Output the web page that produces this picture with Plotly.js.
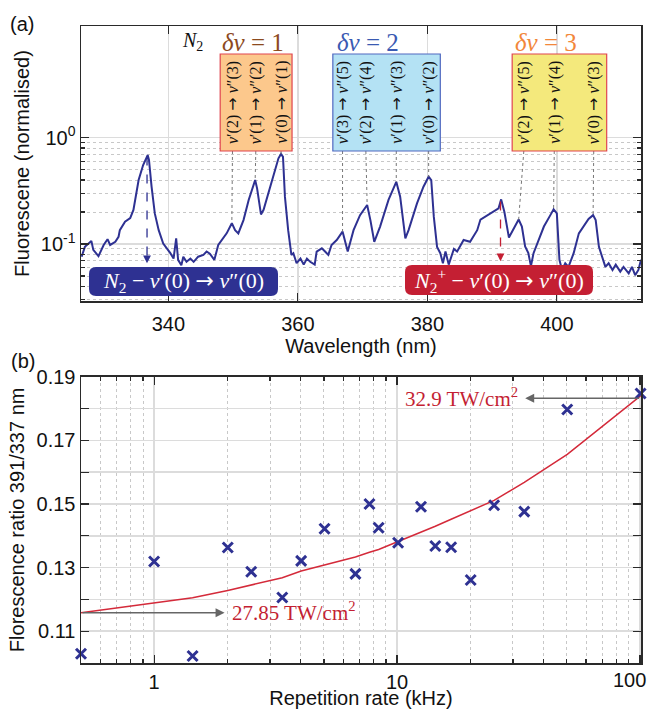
<!DOCTYPE html>
<html><head><meta charset="utf-8">
<script src="https://cdn.plot.ly/plotly-3.0.1.min.js"></script>
<style>body{margin:0;background:#fff}#plot{width:651px;height:709px}</style>
</head><body><div id="plot"></div>
<script>
// ---------- Panel (a): fluorescence spectrum ----------
const wavelength = [326.6,327.1,328.1,328.4,329.2,330.0,330.6,331.0,331.8,332.3,332.5,333.3,334.1,334.6,335.4,336.1,336.8,337.0,337.4,337.9,338.5,339.2,340.3,340.8,341.2,341.5,342.0,342.3,342.8,343.4,343.9,344.6,345.4,345.9,346.4,347.1,347.7,348.3,349.0,349.8,350.3,350.8,351.6,352.4,353.4,353.7,354.3,354.7,355.2,356.1,357.0,357.4,357.7,358.0,358.5,359.0,359.3,359.8,360.4,360.9,361.4,361.9,362.6,362.9,363.7,364.2,364.7,365.2,366.0,366.9,367.7,368.6,369.6,370.7,371.2,371.8,372.7,374.0,375.2,375.8,376.6,377.1,378.4,379.4,380.2,380.6,381.0,381.5,382.0,382.4,382.8,383.3,384.1,384.6,385.6,386.6,387.7,388.2,389.2,390.2,391.0,391.4,391.9,392.6,393.3,394.1,394.6,395.1,395.6,396.0,396.4,397.2,398.0,399.0,399.5,400.0,400.4,400.8,401.3,401.8,402.6,403.4,404.1,404.9,405.6,406.0,406.5,407.0,407.5,408.0,408.6,409.1,409.8,410.3,411.1,411.6,412.1,412.6,413.0];
const fluorescence = [0.076,0.094,0.107,0.088,0.077,0.098,0.111,0.098,0.105,0.117,0.135,0.162,0.175,0.209,0.40,0.553,0.687,0.617,0.346,0.194,0.135,0.101,0.082,0.073,0.113,0.071,0.063,0.076,0.068,0.073,0.068,0.076,0.079,0.085,0.081,0.071,0.098,0.109,0.126,0.157,0.135,0.126,0.168,0.26,0.40,0.334,0.19,0.21,0.27,0.43,0.64,0.703,0.66,0.279,0.135,0.079,0.082,0.066,0.073,0.064,0.073,0.068,0.064,0.085,0.091,0.085,0.079,0.098,0.109,0.131,0.085,0.135,0.187,0.233,0.168,0.105,0.146,0.26,0.385,0.279,0.113,0.135,0.241,0.346,0.43,0.40,0.18,0.094,0.082,0.066,0.085,0.064,0.09,0.085,0.109,0.105,0.135,0.17,0.185,0.201,0.217,0.263,0.20,0.115,0.137,0.17,0.146,0.095,0.082,0.062,0.082,0.112,0.146,0.187,0.212,0.194,0.071,0.057,0.066,0.061,0.082,0.126,0.146,0.172,0.187,0.168,0.094,0.076,0.061,0.066,0.057,0.064,0.055,0.061,0.053,0.061,0.051,0.057,0.071];

// band groups: label column wavelength (top), peak wavelength (bottom), label text
const band1Top = [349.9, 353.5, 357.4];
const band1Peak = [349.8, 353.4, 357.4];
const band1Text = ["ν′(2) → ν″(3)", "ν′(1) → ν″(2)", "ν′(0) → ν″(1)"];
const band2Top = [366.9, 370.5, 375.2, 380.2];
const band2Peak = [366.9, 370.7, 375.2, 380.2];
const band2Text = ["ν′(3) → ν″(5)", "ν′(2) → ν″(4)", "ν′(1) → ν″(3)", "ν′(0) → ν″(2)"];
const band3Top = [394.9, 399.6, 405.7];
const band3Peak = [394.1, 399.5, 405.6];
const band3Text = ["ν′(2) → ν″(5)", "ν′(1) → ν″(4)", "ν′(0) → ν″(3)"];
const n2Line = 336.7;
const n2PlusLine = 391.3;

// ---------- Panel (b): fluorescence ratio vs repetition rate ----------
const repRate = [0.5,1.0,1.44,2.01,2.51,3.37,4.03,5.03,6.74,7.7,8.4,10.1,12.55,14.37,16.7,20.1,25.1,33.4,50.2,100.6];
const ratio = [0.1029,0.1319,0.1022,0.1363,0.1287,0.1206,0.1321,0.1422,0.1280,0.1500,0.1425,0.1378,0.1491,0.1368,0.1364,0.1261,0.1496,0.1476,0.1797,0.1847];
const fitRatio = [0.1158,0.1188,0.1205,0.1228,0.1245,0.1268,0.1289,0.1307,0.1333,0.1348,0.1357,0.1382,0.1410,0.1430,0.1452,0.1478,0.1511,0.1568,0.1656,0.1840];
const intensityLow = "27.85";
const intensityHigh = "32.9";

// ---------- geometry helpers ----------
const L = 81, R = 10, T = 26, B = 46, W = 651, H = 709;
const PW = W - L - R, PH = H - T - B;
const px2x = p => (p - L) / PW;
const px2y = p => 1 - (p - T) / PH;
const topDom = [px2y(301), 1];
const botDom = [0, px2y(376.7)];
const topYRange = [-1.536, 1.051];
const topXRange = [326.5, 413];
const paperToTopY = p => Math.pow(10, topYRange[0] + (p - topDom[0]) / (topDom[1] - topDom[0]) * (topYRange[1] - topYRange[0]));
function interp(x) {
  for (let i = 0; i < wavelength.length - 1; i++) {
    if (x >= wavelength[i] && x <= wavelength[i+1]) {
      const t = (x - wavelength[i]) / (wavelength[i+1] - wavelength[i]);
      return Math.pow(10, Math.log10(fluorescence[i]) * (1 - t) + Math.log10(fluorescence[i+1]) * t);
    }
  }
  return fluorescence[fluorescence.length - 1];
}

const navy = '#2e3192', red = '#c41f33';
const serif = 'Liberation Serif, DejaVu Serif, serif';
const sans = 'Liberation Sans, Arial, sans-serif';
const arrowSpan = '<span style="font-family:DejaVu Sans">→</span>';
const mathify = s => s.replace(/ν/g, '<i>ν</i>').replace(' → ', ' ' + arrowSpan + ' ');

const traces = [];
traces.push({x: wavelength, y: fluorescence, xaxis: 'x', yaxis: 'y', mode: 'lines',
  line: {color: navy, width: 2}, hoverinfo: 'skip', showlegend: false});

const boxBottomY = paperToTopY(px2y(151));
[[band1Top, band1Peak], [band2Top, band2Peak], [band3Top, band3Peak]].forEach(([tops, peaks]) => {
  tops.forEach((t, i) => {
    traces.push({x: [t, peaks[i]], y: [boxBottomY, interp(peaks[i])], xaxis: 'x', yaxis: 'y',
      mode: 'lines', line: {color: '#777', width: 1, dash: 'dot'}, hoverinfo: 'skip', showlegend: false});
  });
});
const tipN2 = paperToTopY(px2y(259));
const tipN2p = paperToTopY(px2y(257));
traces.push({x: [n2Line, n2Line], y: [interp(n2Line), tipN2], xaxis: 'x', yaxis: 'y', mode: 'lines',
  line: {color: navy, width: 1.3, dash: 'dash'}, hoverinfo: 'skip', showlegend: false});
traces.push({x: [n2PlusLine, n2PlusLine], y: [interp(n2PlusLine), tipN2p], xaxis: 'x', yaxis: 'y', mode: 'lines',
  line: {color: red, width: 1.3, dash: 'dash'}, hoverinfo: 'skip', showlegend: false});

traces.push({x: repRate, y: fitRatio, xaxis: 'x2', yaxis: 'y2', mode: 'lines',
  line: {color: '#d42a3a', width: 1.5}, hoverinfo: 'skip', showlegend: false});
traces.push({x: repRate, y: ratio, xaxis: 'x2', yaxis: 'y2', mode: 'markers',
  marker: {symbol: 'x-thin-open', size: 10, color: navy, line: {color: navy, width: 3}}, hoverinfo: 'skip', showlegend: false, cliponaxis: false});

const shapes = [];
function box(x0, x1, fill, border) {
  shapes.push({type: 'rect', xref: 'x', yref: 'paper', x0: x0, x1: x1, y0: px2y(151), y1: px2y(54),
    fillcolor: fill, line: {color: border, width: 1.2}, layer: 'above'});
}
box(348.0, 359.1, '#fcc88c', '#e0454f');
box(365.4, 382.0, '#b4e2f4', '#5068c0');
box(393.1, 407.7, '#f4e97c', '#e0454f');
function rounded(x0, x1, y0, y1, r, fill) {
  const X0 = px2x(x0), X1 = px2x(x1), Y0 = px2y(y1), Y1 = px2y(y0);
  const rx = r / PW, ry = r / PH;
  const p = `M ${X0+rx},${Y1} L ${X1-rx},${Y1} Q ${X1},${Y1} ${X1},${Y1-ry} L ${X1},${Y0+ry} Q ${X1},${Y0} ${X1-rx},${Y0} L ${X0+rx},${Y0} Q ${X0},${Y0} ${X0},${Y0+ry} L ${X0},${Y1-ry} Q ${X0},${Y1} ${X0+rx},${Y1} Z`;
  shapes.push({type: 'path', xref: 'paper', yref: 'paper', path: p, fillcolor: fill, line: {width: 0}, layer: 'above'});
}
rounded(89, 278, 267, 296, 7, navy);
rounded(405, 593, 265, 295, 7, red);

const ann = [];
const txt = (o) => ann.push(Object.assign({showarrow: false, xanchor: 'center', yanchor: 'middle'}, o));
txt({text: '(a)', xref: 'paper', yref: 'paper', x: px2x(22), y: px2y(24), font: {family: sans, size: 20, color: '#111'}});
txt({text: '(b)', xref: 'paper', yref: 'paper', x: px2x(23), y: px2y(361), font: {family: sans, size: 20, color: '#111'}});
txt({text: '<i>N</i><sub>2</sub>', xref: 'x', yref: 'paper', x: 343.7, y: px2y(41), font: {family: serif, size: 20, color: '#111'}});
txt({text: '<i>δν</i> = 1', xref: 'x', yref: 'paper', x: 353.0, y: px2y(42), font: {family: serif, size: 25, color: '#8c4a1e'}});
txt({text: '<i>δν</i> = 2', xref: 'x', yref: 'paper', x: 370.9, y: px2y(42), font: {family: serif, size: 25, color: '#3a5ab2'}});
txt({text: '<i>δν</i> = 3', xref: 'x', yref: 'paper', x: 398.3, y: px2y(42), font: {family: serif, size: 25, color: '#f2873a'}});
[[band1Top, band1Text], [band2Top, band2Text], [band3Top, band3Text]].forEach(([xs, ts]) => {
  xs.forEach((x, i) => txt({text: mathify(ts[i]), xref: 'x', yref: 'paper', x: x, y: px2y(102.5), textangle: -90,
    font: {family: serif, size: 16, color: '#111'}}));
});
txt({text: '<i>N</i><sub>2</sub> − <i>ν</i>′(0) ' + arrowSpan + ' <i>ν</i>″(0)', xref: 'paper', yref: 'paper', x: px2x(183.5), y: px2y(281.5),
  font: {family: serif, size: 22, color: '#fff'}});
txt({text: '<i>N</i><sub>2</sub><sup>+</sup> − <i>ν</i>′(0) ' + arrowSpan + ' <i>ν</i>″(0)', xref: 'paper', yref: 'paper', x: px2x(499), y: px2y(280),
  font: {family: serif, size: 22, color: '#fff'}});
ann.push({text: '', xref: 'x', yref: 'y', x: n2Line, y: Math.log10(tipN2) - 0.04, ax: 0, ay: -9, showarrow: true,
  arrowhead: 2, arrowsize: 1.2, arrowwidth: 1.3, arrowcolor: navy});
ann.push({text: '', xref: 'x', yref: 'y', x: n2PlusLine, y: Math.log10(tipN2p) - 0.04, ax: 0, ay: -9, showarrow: true,
  arrowhead: 2, arrowsize: 1.2, arrowwidth: 1.3, arrowcolor: red});
const hiY = 0.1832, loY = fitRatio[0];
ann.push({text: '', xref: 'x2', yref: 'y2', axref: 'x2', ayref: 'y2', x: Math.log10(33.7), y: hiY,
  ax: Math.log10(repRate[repRate.length-1]), ay: hiY, showarrow: true, arrowhead: 2, arrowsize: 1.2, arrowwidth: 1.5, arrowcolor: '#666'});
ann.push({text: '', xref: 'x2', yref: 'y2', axref: 'x2', ayref: 'y2', x: Math.log10(1.95), y: loY,
  ax: Math.log10(repRate[0]), ay: loY, showarrow: true, arrowhead: 2, arrowsize: 1.2, arrowwidth: 1.5, arrowcolor: '#666'});
txt({text: intensityHigh + ' TW/cm<sup>2</sup>', xref: 'x2', yref: 'y2', x: Math.log10(32.2), y: hiY + 0.0004, xanchor: 'right',
  font: {family: serif, size: 21, color: red}});
txt({text: intensityLow + ' TW/cm<sup>2</sup>', xref: 'x2', yref: 'y2', x: Math.log10(2.05), y: loY + 0.0004, xanchor: 'left',
  font: {family: serif, size: 21, color: red}});
txt({text: '100', xref: 'paper', yref: 'paper', x: px2x(648), y: px2y(680), xanchor: 'right',
  font: {family: sans, size: 20, color: '#111'}});

const axisCommon = {showline: true, linecolor: '#2a2a2a', linewidth: 1.5, mirror: 'ticks', ticks: 'inside',
  tickcolor: '#2a2a2a', tickwidth: 1.2, ticklen: 8, gridcolor: '#dcdcdc', gridwidth: 1.5, zeroline: false,
  tickfont: {family: sans, size: 20, color: '#111'}};

const minorTop = [0.03,0.04,0.05,0.06,0.07,0.08,0.09,0.2,0.3,0.4,0.5,0.6,0.7,0.8,0.9];
const minorBot = [0.6,0.7,0.8,0.9,2,3,4,5,6,7,8,9,20,30,40,50,60,70,80,90];
const yTicksB = [0.10,0.11,0.12,0.13,0.14,0.15,0.16,0.17,0.18,0.19];

const layout = {
  width: W, height: H, margin: {l: L, r: R, t: T, b: B}, paper_bgcolor: '#fff', plot_bgcolor: '#fff',
  showlegend: false, shapes: shapes, annotations: ann,
  xaxis: Object.assign({}, axisCommon, {domain: [0, 1], anchor: 'y', range: topXRange, tickvals: [340, 360, 380, 400],
    ticklabelstandoff: 4,
    title: {text: 'Wavelength (nm)', font: {family: sans, size: 20, color: '#111'}, standoff: 0}}),
  yaxis: Object.assign({}, axisCommon, {domain: topDom, anchor: 'x', type: 'log', range: topYRange,
    tickvals: [0.1, 1], ticktext: ['10<sup>-1</sup>', '10<sup>0</sup>'],
    minor: {tickvals: minorTop, ticks: 'inside', ticklen: 4, tickcolor: '#2a2a2a', showgrid: true, gridcolor: '#c8c8c8', griddash: 'dot', gridwidth: 1},
    title: {text: 'Fluorescene (normalised)', font: {family: sans, size: 20, color: '#111'}, standoff: 6}}),
  xaxis2: Object.assign({}, axisCommon, {domain: [0, 1], anchor: 'y2', type: 'log', range: [Math.log10(0.5), Math.log10(101)],
    tickvals: [1, 10, 100], ticktext: ['1', '10', ''],
    minor: {tickvals: minorBot, ticks: 'inside', ticklen: 4, tickcolor: '#2a2a2a', showgrid: true, gridcolor: '#c8c8c8', griddash: 'dot', gridwidth: 1},
    title: {text: 'Repetition rate (kHz)', font: {family: sans, size: 20, color: '#111'}, standoff: 2}}),
  yaxis2: Object.assign({}, axisCommon, {domain: botDom, anchor: 'x2', range: [0.1, 0.19],
    tickvals: yTicksB, ticktext: yTicksB.map((v, i) => i % 2 === 1 ? v.toFixed(2) : ''),
    title: {text: 'Florescence ratio 391/337 nm', font: {family: sans, size: 20, color: '#111'}, standoff: 6}})
};

Plotly.newPlot('plot', traces, layout, {displayModeBar: false, staticPlot: true});
</script></body></html>
